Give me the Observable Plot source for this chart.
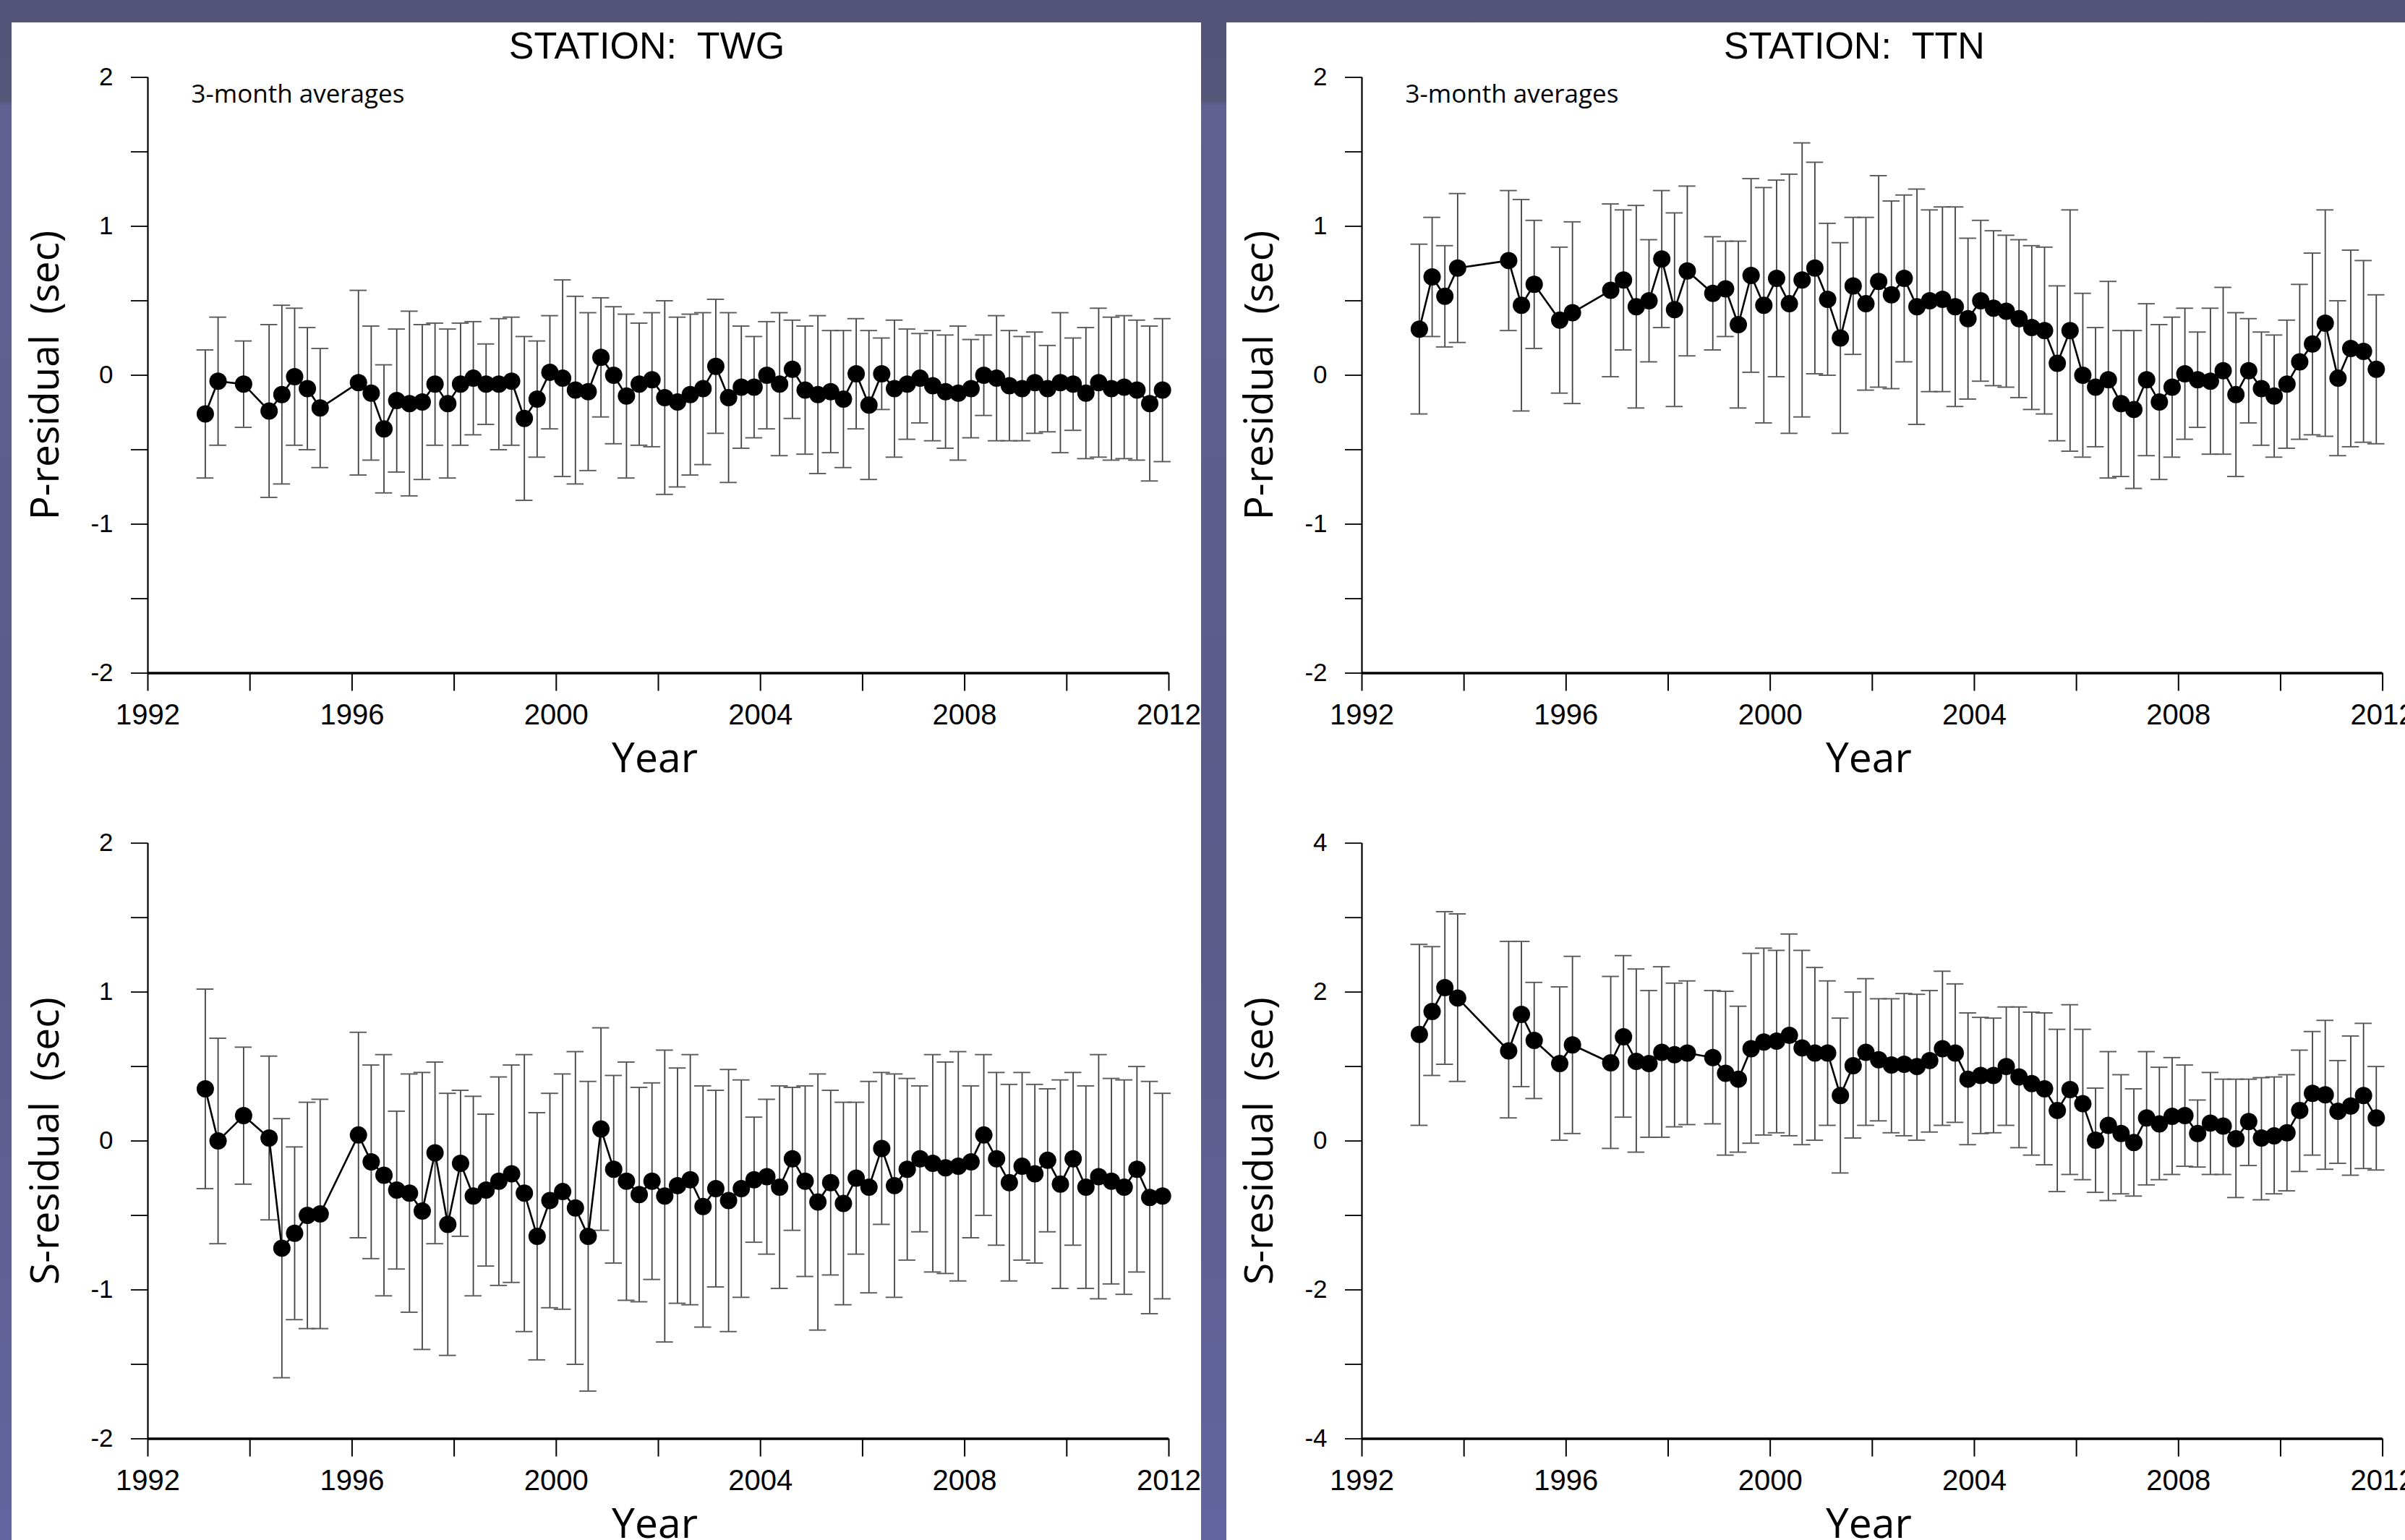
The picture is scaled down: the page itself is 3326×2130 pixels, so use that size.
<!DOCTYPE html>
<html>
<head>
<meta charset="utf-8">
<script src="https://cdn.jsdelivr.net/npm/d3@7"></script>
<script src="https://cdn.jsdelivr.net/npm/@observablehq/plot@0.6"></script>
<style>
html, body { margin: 0; padding: 0; width: 3326px; height: 2130px; overflow: hidden; }
body {
  position: relative;
  background: linear-gradient(to bottom, #535377 0px, #555579 138px, #606092 146px, #5b5b8a 60%, #6464a0 100%);
}
.panel { position: absolute; background: #ffffff; }
.chart { position: absolute; }
.chart svg { max-width: none; overflow: visible; display: block; }
</style>
</head>
<body>
<div class="panel" style="left:16px; top:31px; width:1645px; height:2099px;"></div>
<div class="panel" style="left:1696px; top:31px; width:1630px; height:2099px;"></div>
<div id="twgP" class="chart"></div>
<div id="twgS" class="chart"></div>
<div id="ttnP" class="chart"></div>
<div id="ttnS" class="chart"></div>
<script>
// ---------------- DATA ----------------
const xTicks = [1992, 1994, 1996, 1998, 2000, 2002, 2004, 2006, 2008, 2010, 2012];
const xLabels = [1992, 1996, 2000, 2004, 2008, 2012];
const yTicksP = [-2, -1.5, -1, -0.5, 0, 0.5, 1, 1.5, 2];
const yLabelsP = [-2, -1, 0, 1, 2];
const yTicksTtnS = [-4, -3, -2, -1, 0, 1, 2, 3, 4];
const yLabelsTtnS = [-4, -2, 0, 2, 4];

// Station TWG (quarterly mid-points, decimal year)
const twgTime = [
  1993.125, 1993.375, 1993.875, 1994.375, 1994.625, 1994.875, 1995.125, 1995.375,
  1996.125, 1996.375, 1996.625, 1996.875, 1997.125, 1997.375, 1997.625, 1997.875,
  1998.125, 1998.375, 1998.625, 1998.875, 1999.125, 1999.375, 1999.625, 1999.875,
  2000.125, 2000.375, 2000.625, 2000.875, 2001.125, 2001.375, 2001.625, 2001.875,
  2002.125, 2002.375, 2002.625, 2002.875, 2003.125, 2003.375, 2003.625, 2003.875,
  2004.125, 2004.375, 2004.625, 2004.875, 2005.125, 2005.375, 2005.625, 2005.875,
  2006.125, 2006.375, 2006.625, 2006.875, 2007.125, 2007.375, 2007.625, 2007.875,
  2008.125, 2008.375, 2008.625, 2008.875, 2009.125, 2009.375, 2009.625, 2009.875,
  2010.125, 2010.375, 2010.625, 2010.875, 2011.125, 2011.375, 2011.625, 2011.875
];
const twgP = [
  -0.26, -0.04, -0.06, -0.24, -0.13, -0.01, -0.09, -0.22, -0.05, -0.12, -0.36, -0.17,
  -0.19, -0.18, -0.06, -0.19, -0.06, -0.02, -0.06, -0.06, -0.04, -0.29, -0.16, 0.02,
  -0.02, -0.10, -0.11, 0.12, 0.00, -0.14, -0.06, -0.03, -0.15,
  -0.18, -0.13, -0.09, 0.06, -0.15, -0.08, -0.08, 0.00, -0.06, 0.04, -0.10, -0.13,
  -0.11, -0.16, 0.01, -0.20, 0.01, -0.09, -0.06, -0.02, -0.07, -0.11, -0.12, -0.09,
  0.00, -0.02, -0.07, -0.09, -0.05, -0.09, -0.05, -0.06, -0.12, -0.05, -0.09, -0.08,
  -0.10, -0.19, -0.10
];
const twgPHi = [
  0.17, 0.39, 0.23, 0.34, 0.47, 0.45, 0.32, 0.18, 0.57, 0.33, 0.07, 0.31,
  0.43, 0.34, 0.35, 0.31, 0.35, 0.36, 0.21, 0.38, 0.39, 0.26, 0.23, 0.40,
  0.64, 0.53, 0.42, 0.52, 0.46, 0.41, 0.35, 0.42, 0.50,
  0.39, 0.41, 0.42, 0.51, 0.42, 0.33, 0.26, 0.36, 0.42, 0.37, 0.33, 0.40,
  0.30, 0.30, 0.38, 0.30, 0.25, 0.37, 0.31, 0.28, 0.30, 0.27, 0.33, 0.24,
  0.27, 0.40, 0.30, 0.26, 0.29, 0.20, 0.42, 0.25, 0.32, 0.45, 0.39, 0.40,
  0.37, 0.33, 0.38
];
const twgPLo = [
  -0.69, -0.47, -0.35, -0.82, -0.73, -0.47, -0.50, -0.62, -0.67, -0.57, -0.79, -0.65,
  -0.81, -0.70, -0.47, -0.69, -0.47, -0.40, -0.33, -0.50, -0.47, -0.84, -0.55, -0.36,
  -0.68, -0.73, -0.64, -0.28, -0.46, -0.69, -0.47, -0.48, -0.80,
  -0.75, -0.67, -0.60, -0.39, -0.72, -0.49, -0.42, -0.36, -0.54, -0.29, -0.53, -0.66,
  -0.52, -0.62, -0.36, -0.70, -0.23, -0.55, -0.43, -0.32, -0.44, -0.49, -0.57, -0.42,
  -0.27, -0.44, -0.44, -0.44, -0.39, -0.38, -0.52, -0.37, -0.56, -0.55, -0.57, -0.56,
  -0.57, -0.71, -0.58
];
const twgS = [
  0.35, 0.00, 0.17, 0.02, -0.72, -0.62, -0.50, -0.49, 0.04, -0.14, -0.23, -0.33,
  -0.35, -0.47, -0.08, -0.56, -0.15, -0.37, -0.33, -0.27, -0.22, -0.35, -0.64, -0.40,
  -0.34, -0.45, -0.64, 0.08, -0.19, -0.27, -0.36, -0.27, -0.37,
  -0.30, -0.26, -0.44, -0.32, -0.40, -0.32, -0.26, -0.24, -0.31, -0.12, -0.27, -0.41,
  -0.28, -0.42, -0.25, -0.31, -0.05, -0.30, -0.19, -0.12, -0.15, -0.18, -0.17, -0.14,
  0.04, -0.12, -0.28, -0.17, -0.22, -0.13, -0.29, -0.12, -0.31, -0.24, -0.27, -0.31,
  -0.19, -0.38, -0.37
];
const twgSHi = [
  1.02, 0.69, 0.63, 0.57, 0.15, -0.04, 0.26, 0.28, 0.73, 0.51, 0.58, 0.20,
  0.45, 0.46, 0.53, 0.32, 0.34, 0.30, 0.18, 0.43, 0.51, 0.58, 0.19, 0.32,
  0.45, 0.60, 0.40, 0.76, 0.44, 0.53, 0.36, 0.39, 0.61,
  0.49, 0.58, 0.37, 0.34, 0.48, 0.41, 0.16, 0.28, 0.37, 0.36, 0.37, 0.45,
  0.34, 0.26, 0.26, 0.40, 0.46, 0.45, 0.42, 0.37, 0.58, 0.53, 0.60, 0.37,
  0.58, 0.46, 0.38, 0.46, 0.38, 0.35, 0.41, 0.46, 0.37, 0.58, 0.42, 0.41,
  0.50, 0.40, 0.32
];
const twgSLo = [
  -0.32, -0.69, -0.29, -0.53, -1.59, -1.20, -1.26, -1.26, -0.65, -0.79, -1.04, -0.86,
  -1.15, -1.40, -0.69, -1.44, -0.64, -1.04, -0.84, -0.97, -0.95, -1.28, -1.47, -1.12,
  -1.13, -1.50, -1.68, -0.60, -0.82, -1.07, -1.08, -0.93, -1.35,
  -1.09, -1.10, -1.25, -0.98, -1.28, -1.05, -0.68, -0.76, -0.99, -0.60, -0.91, -1.27,
  -0.90, -1.10, -0.76, -1.02, -0.56, -1.05, -0.80, -0.61, -0.88, -0.89, -0.94, -0.65,
  -0.50, -0.70, -0.94, -0.80, -0.82, -0.61, -0.99, -0.70, -0.99, -1.06, -0.96, -1.03,
  -0.88, -1.16, -1.06
];

// Station TTN
const ttnTime = [
  1993.125, 1993.375, 1993.625, 1993.875, 1994.875, 1995.125, 1995.375, 1995.875,
  1996.125, 1996.875, 1997.125, 1997.375, 1997.625, 1997.875, 1998.125, 1998.375,
  1998.875, 1999.125, 1999.375, 1999.625, 1999.875, 2000.125, 2000.375, 2000.625,
  2000.875, 2001.125, 2001.375, 2001.625, 2001.875, 2002.125, 2002.375, 2002.625,
  2002.875, 2003.125, 2003.375, 2003.625, 2003.875, 2004.125, 2004.375, 2004.625,
  2004.875, 2005.125, 2005.375, 2005.625, 2005.875, 2006.125, 2006.375, 2006.625,
  2006.875, 2007.125, 2007.375, 2007.625, 2007.875, 2008.125, 2008.375, 2008.625,
  2008.875, 2009.125, 2009.375, 2009.625, 2009.875, 2010.125, 2010.375, 2010.625,
  2010.875, 2011.125, 2011.375, 2011.625, 2011.875
];
const ttnP = [
  0.31, 0.66, 0.53, 0.72, 0.77, 0.47, 0.61, 0.37, 0.42, 0.57, 0.64, 0.46,
  0.50, 0.78, 0.44, 0.70, 0.55, 0.58, 0.34, 0.67, 0.47, 0.65, 0.48, 0.64,
  0.72, 0.51, 0.25, 0.60, 0.48, 0.63,
  0.54, 0.65, 0.46, 0.50, 0.51, 0.46, 0.38, 0.50, 0.45, 0.43, 0.38, 0.32,
  0.30, 0.08, 0.30, 0.00, -0.08, -0.03, -0.19, -0.23, -0.03, -0.18, -0.08, 0.01,
  -0.03, -0.04, 0.03, -0.13, 0.03, -0.09, -0.14, -0.06, 0.09, 0.21, 0.35, -0.02,
  0.18, 0.16, 0.04
];
const ttnPHi = [
  0.88, 1.06, 0.87, 1.22, 1.24, 1.18, 1.04, 0.86, 1.03, 1.15, 1.11, 1.14,
  0.91, 1.24, 1.09, 1.27, 0.93, 0.90, 0.90, 1.32, 1.26, 1.31, 1.35, 1.56,
  1.43, 1.02, 0.89, 1.06, 1.06, 1.34,
  1.17, 1.21, 1.25, 1.11, 1.13, 1.13, 0.92, 1.04, 0.97, 0.94, 0.91, 0.87,
  0.86, 0.60, 1.11, 0.55, 0.32, 0.63, 0.30, 0.30, 0.48, 0.34, 0.39, 0.45,
  0.29, 0.45, 0.59, 0.42, 0.38, 0.29, 0.27, 0.37, 0.61, 0.82, 1.11, 0.50,
  0.84, 0.77, 0.54
];
const ttnPLo = [
  -0.26, 0.26, 0.19, 0.22, 0.30, -0.24, 0.18, -0.12, -0.19, -0.01, 0.17, -0.22,
  0.09, 0.32, -0.21, 0.13, 0.17, 0.26, -0.22, 0.02, -0.32, -0.01, -0.39, -0.28,
  0.01, 0.00, -0.39, 0.14, -0.10, -0.08,
  -0.09, 0.09, -0.33, -0.11, -0.11, -0.21, -0.16, -0.04, -0.07, -0.08, -0.15, -0.23,
  -0.26, -0.44, -0.51, -0.55, -0.48, -0.69, -0.68, -0.76, -0.54, -0.70, -0.55, -0.43,
  -0.35, -0.53, -0.53, -0.68, -0.32, -0.47, -0.55, -0.49, -0.43, -0.40, -0.41, -0.54,
  -0.48, -0.45, -0.46
];
const ttnS = [
  1.43, 1.74, 2.06, 1.92, 1.21, 1.70, 1.35, 1.04, 1.29, 1.05, 1.40, 1.07,
  1.04, 1.19, 1.16, 1.18, 1.12, 0.91, 0.83, 1.24, 1.33, 1.34, 1.42, 1.25,
  1.18, 1.18, 0.61, 1.01, 1.19, 1.09,
  1.02, 1.03, 1.00, 1.08, 1.24, 1.18, 0.83, 0.88, 0.88, 1.00, 0.86, 0.77,
  0.70, 0.41, 0.69, 0.50, 0.01, 0.21, 0.10, -0.02, 0.31, 0.23, 0.33, 0.34,
  0.10, 0.24, 0.20, 0.03, 0.26, 0.04, 0.07, 0.11, 0.41, 0.64, 0.62, 0.40,
  0.47, 0.61, 0.31
];
const ttnSHi = [
  2.64, 2.61, 3.08, 3.05, 2.68, 2.68, 2.13, 2.07, 2.48, 2.21, 2.49, 2.31,
  2.02, 2.34, 2.12, 2.15, 2.02, 2.01, 1.81, 2.52, 2.59, 2.56, 2.78, 2.56,
  2.33, 2.15, 1.65, 2.00, 2.18, 1.91,
  1.91, 1.98, 1.97, 2.02, 2.28, 2.11, 1.72, 1.66, 1.65, 1.80, 1.80, 1.73,
  1.72, 1.50, 1.83, 1.50, 0.71, 1.20, 0.89, 0.70, 1.20, 0.99, 1.12, 1.02,
  0.55, 0.92, 0.83, 0.83, 0.83, 0.85, 0.86, 0.89, 1.22, 1.47, 1.62, 1.08,
  1.41, 1.58, 1.00
];
const ttnSLo = [
  0.21, 0.88, 1.03, 0.80, 0.31, 0.73, 0.57, 0.01, 0.10, -0.10, 0.32, -0.15,
  0.05, 0.05, 0.19, 0.22, 0.23, -0.19, -0.15, -0.03, 0.08, 0.11, 0.07, -0.05,
  0.01, 0.21, -0.43, 0.04, 0.21, 0.27,
  0.11, 0.07, 0.01, 0.12, 0.21, 0.25, -0.05, 0.10, 0.11, 0.21, -0.09, -0.19,
  -0.32, -0.68, -0.45, -0.52, -0.69, -0.80, -0.71, -0.74, -0.59, -0.52, -0.45, -0.34,
  -0.35, -0.45, -0.45, -0.76, -0.33, -0.79, -0.71, -0.67, -0.41, -0.19, -0.38, -0.30,
  -0.46, -0.37, -0.39
];

// ---------------- DRAWING ----------------
const CAP = 0.167; // half-width of error-bar caps, in years
const SANS = "'Liberation Sans', Arial, sans-serif";
const LABELFONT = "'Open Sans', 'Noto Sans', sans-serif";

function panel(o) {
  const data = o.time.map((t, i) => ({t, v: o.val[i], lo: o.lo[i], hi: o.hi[i]}));
  const marks = [
    Plot.ruleX(data, {x: "t", y1: "lo", y2: "hi", stroke: "#404040", strokeWidth: 1.8}),
    Plot.ruleY(data, {y: "hi", x1: d => d.t - CAP, x2: d => d.t + CAP, stroke: "#5a5a5a", strokeWidth: 1.9}),
    Plot.ruleY(data, {y: "lo", x1: d => d.t - CAP, x2: d => d.t + CAP, stroke: "#5a5a5a", strokeWidth: 1.9}),
    Plot.line(data, {x: "t", y: "v", stroke: "#000", strokeWidth: 2.6}),
    Plot.dot(data, {x: "t", y: "v", r: 12, fill: "#000"}),
    Plot.axisX({ticks: xTicks, tickSize: 25, tickPadding: 18, strokeWidth: 2,
      tickFormat: d => xLabels.includes(d) ? String(d) : "", fontSize: 40, label: null}),
    Plot.axisY({ticks: o.yTicks, tickSize: 23, tickPadding: 25, strokeWidth: 1.8,
      tickFormat: d => o.yLabels.includes(d) ? String(d) : "", fontSize: 35, label: null}),
    Plot.ruleX([1992], {stroke: "#000", strokeWidth: 2.2}),
    Plot.ruleY([o.yDomain[0]], {stroke: "#000", strokeWidth: 3.6}),
    Plot.text([o.ylabel], {text: d => d, frameAnchor: "left", rotate: -90, textAnchor: "middle",
      lineAnchor: "middle", dx: -141, fontSize: 55, fontFamily: LABELFONT, fill: "#000"}),
    Plot.text(["Year"], {text: d => d, frameAnchor: "bottom", textAnchor: "middle",
      lineAnchor: "bottom", dx: -5, dy: 137, fontSize: 57, fontFamily: LABELFONT, fill: "#000"})
  ];
  if (o.title) {
    marks.push(Plot.text([o.title], {text: d => d, frameAnchor: "top", textAnchor: "middle",
      lineAnchor: "bottom", dx: o.titleDx, dy: -26, fontSize: 52, fontFamily: SANS, fill: "#000"}));
  }
  if (o.note) {
    marks.push(Plot.text([o.note], {text: d => d, frameAnchor: "top-left", textAnchor: "start",
      lineAnchor: "top", dx: 60, dy: 10, fontSize: 35, fontFamily: LABELFONT, fill: "#000"}));
  }
  const chart = Plot.plot({
    width: o.width, height: o.height,
    marginTop: o.mt, marginRight: o.mr, marginBottom: o.mb, marginLeft: o.ml,
    style: {background: "transparent", fontFamily: SANS, overflow: "visible", maxWidth: "none"},
    x: {domain: [1992, 2012], label: null},
    y: {domain: o.yDomain, label: null},
    marks
  });
  const el = document.getElementById(o.id);
  el.style.left = o.left + "px";
  el.style.top = o.top + "px";
  el.style.width = o.width + "px";
  el.appendChild(chart);
}

// left column: frame x 204..1616 ; right column: frame x 1883..3294.6
panel({id: "twgP", time: twgTime, val: twgP, lo: twgPLo, hi: twgPHi,
  yDomain: [-2, 2], yTicks: yTicksP, yLabels: yLabelsP, ylabel: "P-residual  (sec)",
  title: "STATION:  TWG", titleDx: -16, note: "3-month averages",
  left: 16, top: 31, width: 1645, height: 1100, mt: 75.5, mr: 45, mb: 200.5, ml: 188});
panel({id: "twgS", time: twgTime, val: twgS, lo: twgSLo, hi: twgSHi,
  yDomain: [-2, 2], yTicks: yTicksP, yLabels: yLabelsP, ylabel: "S-residual  (sec)",
  left: 16, top: 1131, width: 1645, height: 999, mt: 34.7, mr: 45, mb: 140.5, ml: 188});
panel({id: "ttnP", time: ttnTime, val: ttnP, lo: ttnPLo, hi: ttnPHi,
  yDomain: [-2, 2], yTicks: yTicksP, yLabels: yLabelsP, ylabel: "P-residual  (sec)",
  title: "STATION:  TTN", titleDx: -25, note: "3-month averages",
  left: 1696, top: 31, width: 1630, height: 1100, mt: 75.5, mr: 31.4, mb: 200.5, ml: 187});
panel({id: "ttnS", time: ttnTime, val: ttnS, lo: ttnSLo, hi: ttnSHi,
  yDomain: [-4, 4], yTicks: yTicksTtnS, yLabels: yLabelsTtnS, ylabel: "S-residual  (sec)",
  left: 1696, top: 1131, width: 1630, height: 999, mt: 34.7, mr: 31.4, mb: 140.5, ml: 187});
</script>
</body>
</html>
